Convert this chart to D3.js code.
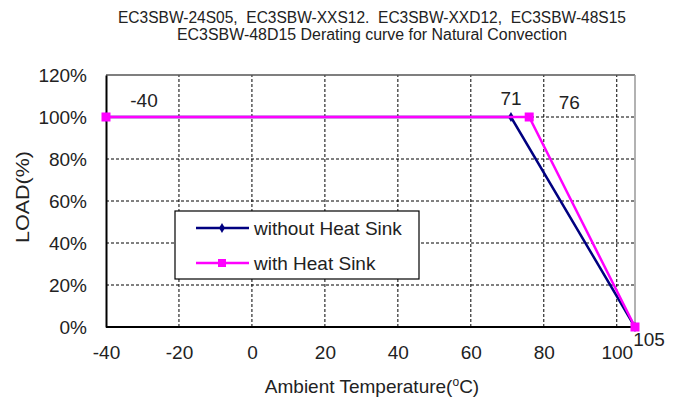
<!DOCTYPE html>
<html>
<head>
<meta charset="utf-8">
<script src="https://cdn.jsdelivr.net/npm/d3@7"></script>
<style>
body { margin: 0; background: #fff; }
text { font-family: "Liberation Sans", Arial, sans-serif; fill: #222; }
</style>
</head>
<body>
<script>
// data
const xTicks = [-40, -20, 0, 20, 40, 60, 80, 100];
const yTicks = [0, 20, 40, 60, 80, 100, 120];
const noSinkTemp = [-40, 71, 105];
const noSinkLoad = [100, 100, 0];
const sinkTemp = [-40, 76, 105];
const sinkLoad = [100, 100, 0];
const pointLabels = ["-40", "71", "76", "105"];
const titleLines = ["EC3SBW-24S05,  EC3SBW-XXS12.  EC3SBW-XXD12,  EC3SBW-48S15",
                    "EC3SBW-48D15 Derating curve for Natural Convection"];

const svg = d3.select("body").append("svg").attr("width", 680).attr("height", 403);

const x = d3.scaleLinear().domain([-40, 105]).range([106, 635]);
const y = d3.scaleLinear().domain([0, 120]).range([327, 75]);

// title (condensed face in the original, so squeeze to its width)
const titleWidth = [508, 390];
svg.selectAll("text.title")
    .data(titleLines)
    .enter().append("text")
      .attr("class", "title")
      .attr("x", function(d, i){ return 372 - titleWidth[i] / 2; })
      .attr("y", function(d, i){ return 23 + i * 17; })
      .attr("font-size", 16)
      .attr("textLength", function(d, i){ return titleWidth[i]; })
      .attr("lengthAdjust", "spacingAndGlyphs")
      .style("white-space", "pre")
      .text(function(d){ return d; });

// dashed grid
svg.selectAll("line.vgrid")
    .data(xTicks.slice(1))
    .enter().append("line")
      .attr("x1", function(d){ return x(d); })
      .attr("x2", function(d){ return x(d); })
      .attr("y1", y(0)).attr("y2", y(120))
      .attr("stroke", "#000").attr("stroke-width", 1).attr("stroke-dasharray", "3,2");
svg.selectAll("line.hgrid")
    .data(yTicks.slice(1, -1))
    .enter().append("line")
      .attr("x1", x(-40)).attr("x2", x(105))
      .attr("y1", function(d){ return y(d); })
      .attr("y2", function(d){ return y(d); })
      .attr("stroke", "#000").attr("stroke-width", 1).attr("stroke-dasharray", "3,2");

// frame
svg.append("line").attr("x1", x(-40)).attr("x2", x(105)).attr("y1", y(120)).attr("y2", y(120))
    .attr("stroke", "#555").attr("stroke-width", 1.5);
svg.append("line").attr("x1", x(105)).attr("x2", x(105)).attr("y1", y(120)).attr("y2", y(0))
    .attr("stroke", "#999").attr("stroke-width", 1.5);

// axes
const xAxis = svg.append("g").attr("transform", "translate(0," + y(0) + ")")
    .call(d3.axisBottom(x).tickValues(xTicks).tickSize(0).tickPadding(19)
      .tickFormat(function(d){ return String(d); }));
const yAxis = svg.append("g").attr("transform", "translate(" + x(-40) + ",0)")
    .call(d3.axisLeft(y).tickValues(yTicks).tickSize(0).tickPadding(19)
      .tickFormat(function(d){ return d + "%"; }));
[xAxis, yAxis].forEach(function(a){
  a.select(".domain").attr("stroke", "#000").attr("stroke-width", 2);
  a.selectAll("text").attr("font-size", 19).attr("fill", "#222")
    .attr("font-family", "Liberation Sans, Arial, sans-serif");
});
xAxis.select(".domain").attr("d", "M" + x(-40) + ",0H" + x(105));

// axis titles
svg.append("text")
    .attr("transform", "translate(29," + 243 + ") rotate(-90)")
    .attr("font-size", 19)
    .attr("textLength", 92)
    .attr("lengthAdjust", "spacingAndGlyphs")
    .text("LOAD(%)");
const xt = svg.append("text")
    .attr("x", 372).attr("y", 393)
    .attr("text-anchor", "middle")
    .attr("font-size", 19);
xt.append("tspan").text("Ambient Temperature(");
xt.append("tspan").attr("font-size", 12).attr("dy", -7).text("o");
xt.append("tspan").attr("dy", 7).text("C)");

// lines
const line = d3.line().x(function(d){ return x(d[0]); }).y(function(d){ return y(d[1]); });
const noSink = noSinkTemp.map(function(t, i){ return [t, noSinkLoad[i]]; });
const sink = sinkTemp.map(function(t, i){ return [t, sinkLoad[i]]; });

svg.append("path").attr("d", line(noSink)).attr("fill", "none")
    .attr("stroke", "#000080").attr("stroke-width", 2.5);
svg.selectAll("path.diamond")
    .data(noSink)
    .enter().append("path")
      .attr("class", "diamond")
      .attr("d", d3.symbol().type(d3.symbolDiamond).size(30))
      .attr("transform", function(d){ return "translate(" + x(d[0]) + "," + y(d[1]) + ")"; })
      .attr("fill", "#000080");

svg.append("path").attr("d", line(sink)).attr("fill", "none")
    .attr("stroke", "#ff00ff").attr("stroke-width", 2.5);
svg.selectAll("rect.sq")
    .data(sink)
    .enter().append("rect")
      .attr("class", "sq")
      .attr("x", function(d){ return x(d[0]) - 4.5; })
      .attr("y", function(d){ return y(d[1]) - 4.5; })
      .attr("width", 9).attr("height", 9)
      .attr("fill", "#ff00ff");

// point labels
const labelPos = [[x(-40) + 38, 107], [x(71), 105], [x(76) + 40, 109], [x(105) + 14, 346]];
svg.selectAll("text.pl")
    .data(pointLabels)
    .enter().append("text")
      .attr("class", "pl")
      .attr("x", function(d, i){ return labelPos[i][0]; })
      .attr("y", function(d, i){ return labelPos[i][1]; })
      .attr("text-anchor", "middle")
      .attr("font-size", 19)
      .text(function(d){ return d; });

// legend
const leg = svg.append("g");
leg.append("rect").attr("x", 175).attr("y", 211).attr("width", 244).attr("height", 68)
    .attr("fill", "#fff").attr("stroke", "#000").attr("stroke-width", 1.2);
leg.append("line").attr("x1", 196).attr("x2", 249).attr("y1", 228).attr("y2", 228)
    .attr("stroke", "#000080").attr("stroke-width", 2.5);
leg.append("path").attr("d", d3.symbol().type(d3.symbolDiamond).size(30))
    .attr("transform", "translate(222,228)").attr("fill", "#000080");
leg.append("text").attr("x", 254).attr("y", 235).attr("font-size", 19).text("without Heat Sink");
leg.append("line").attr("x1", 196).attr("x2", 249).attr("y1", 263).attr("y2", 263)
    .attr("stroke", "#ff00ff").attr("stroke-width", 2.5);
leg.append("rect").attr("x", 218).attr("y", 259).attr("width", 8).attr("height", 8).attr("fill", "#ff00ff");
leg.append("text").attr("x", 254).attr("y", 270).attr("font-size", 19).text("with Heat Sink");
</script>
</body>
</html>
